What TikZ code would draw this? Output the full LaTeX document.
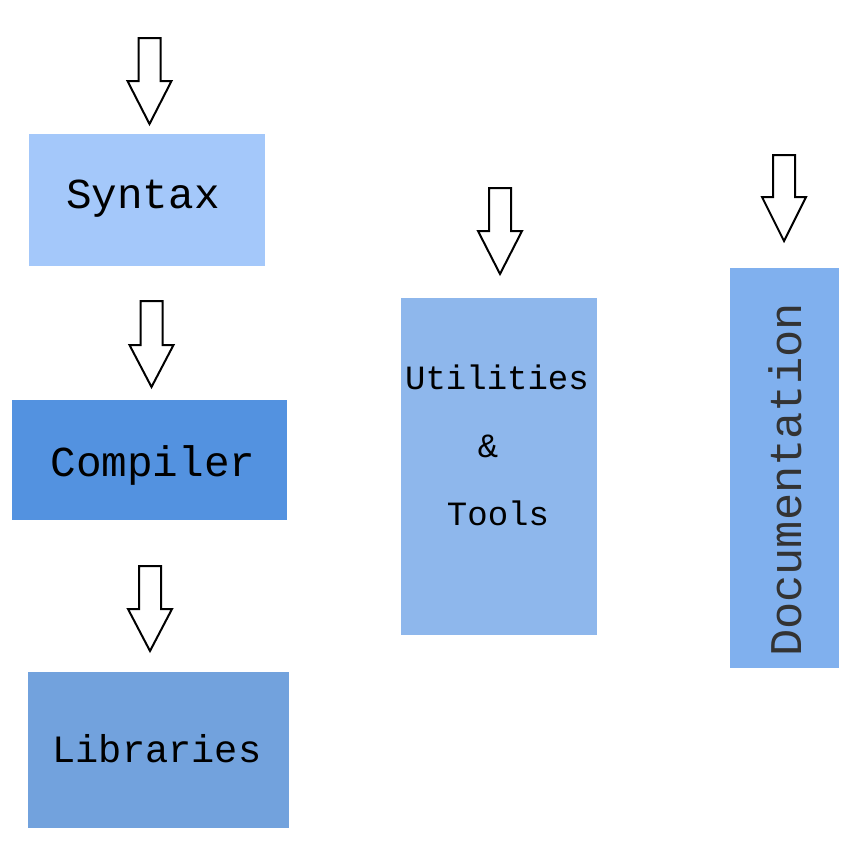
\documentclass[tikz,border=0pt]{standalone}
\usepackage{fontspec}
\setmonofont{Liberation Mono}
\begin{document}
\begin{tikzpicture}[x=0.75pt,y=-0.75pt,
  lbl/.style={font=\ttfamily\fontsize{#1}{#1}\selectfont, inner sep=0pt, text=black},
  blockarrow/.style={draw=black, line width=1.5pt, fill=white, line join=miter}]
\useasboundingbox (0,0) rectangle (850,846);
\definecolor{cSyntax}{RGB}{164,200,250}
\definecolor{cComp}{RGB}{83,146,224}
\definecolor{cLib}{RGB}{114,162,221}
\definecolor{cUtil}{RGB}{142,183,236}
\definecolor{cDoc}{RGB}{128,176,238}
% boxes
\fill[cSyntax] (29,134) rectangle (265,266);
\fill[cComp] (12,400) rectangle (287,520);
\fill[cLib] (28,672) rectangle (289,828);
\fill[cUtil] (401,298) rectangle (597,635);
\fill[cDoc] (730,268) rectangle (839,668);
% labels
\node[lbl=32] (syntax) at (143,199) {Syntax};
\node[lbl=32] (compiler) at (153,465) {Compiler};
\node[lbl=29] (libraries) at (157,749) {Libraries};
\node[lbl=25.5] (util) at (497,377) {Utilities};
\node[lbl=25.5] (amp) at (488,446) {\&};
\node[lbl=25.5] (tools) at (498,513) {Tools};
\node[lbl=34, rotate=90, text=black!80] (doc) at (785,480) {Documentation};
% block arrows
\newcommand{\blkarrow}[4]{% cx, top, headstart, tip
  \draw[blockarrow] ({#1-11},#2) -- ({#1+11},#2) -- ({#1+11},#3) -- ({#1+22},#3) -- (#1,#4) -- ({#1-22},#3) -- ({#1-11},#3) -- cycle;}
\blkarrow{149.5}{38}{81}{124}
\blkarrow{151.5}{301}{345}{387}
\blkarrow{150}{566}{609}{651}
\blkarrow{500}{188}{231}{274}
\blkarrow{784}{155}{197}{241}
\end{tikzpicture}
\end{document}
